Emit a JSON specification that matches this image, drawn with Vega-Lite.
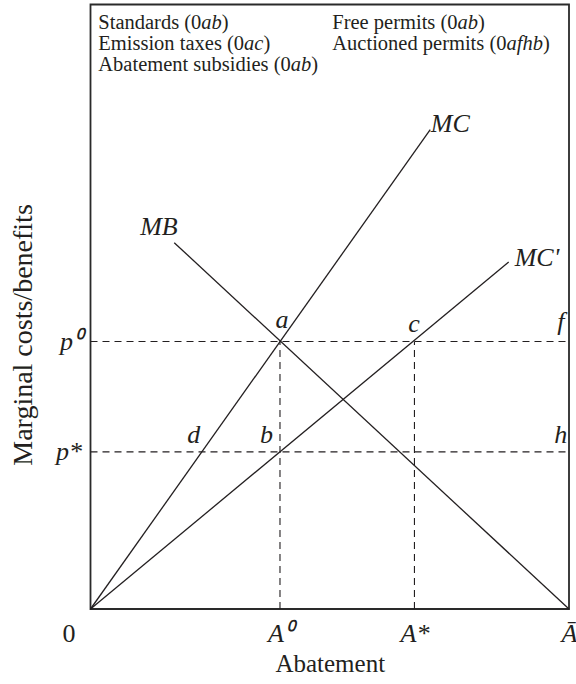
{
  "$schema": "https://vega.github.io/schema/vega-lite/v6.json",
  "width": 478.5,
  "height": 604.5,
  "autosize": "none",
  "padding": {"left": 90.5, "top": 4.5, "right": 7, "bottom": 75},
  "background": "white",
  "config": {
    "view": {"stroke": "#2a2a2a", "strokeWidth": 1.8},
    "font": "Liberation Serif",
    "text": {"font": "Liberation Serif", "fontSize": 20.5, "color": "#231f20"}
  },
  "datasets": {
    "curves": [
      {"curve": "MC", "x": 0, "y": 0},
      {"curve": "MC", "x": 71.0, "y": 79.3},
      {"curve": "MC'", "x": 0, "y": 0},
      {"curve": "MC'", "x": 87.4, "y": 57.4},
      {"curve": "MB", "x": 17.5, "y": 60.6},
      {"curve": "MB", "x": 100, "y": 0}
    ],
    "guides": [
      {"name": "p0", "x": 0, "x2": 100, "y": 44.25, "y2": 44.25},
      {"name": "pstar", "x": 0, "x2": 100, "y": 26.0, "y2": 26.0},
      {"name": "A0", "x": 39.6, "x2": 39.6, "y": 0, "y2": 44.25},
      {"name": "Astar", "x": 67.7, "x2": 67.7, "y": 0, "y2": 44.25}
    ],
    "pointLabels": [
      {"label": "a", "x": 40.0, "y": 46.5},
      {"label": "c", "x": 67.6, "y": 45.9},
      {"label": "f", "x": 98.3, "y": 46.1},
      {"label": "d", "x": 21.6, "y": 27.5},
      {"label": "b", "x": 36.8, "y": 27.5},
      {"label": "h", "x": 98.3, "y": 27.5},
      {"label": "MB", "x": 14.3, "y": 61.9},
      {"label": "MC", "x": 75.2, "y": 78.9},
      {"label": "MC'", "x": 93.3, "y": 56.8}
    ],
    "notes": [
      {"text": "Standards (0", "x": 1.63, "y": 95.9, "style": "normal"},
      {"text": "ab", "x": 23.17, "y": 95.9, "style": "italic"},
      {"text": ")", "x": 27.45, "y": 95.9, "style": "normal"},
      {"text": "Emission taxes (0", "x": 1.63, "y": 92.47, "style": "normal"},
      {"text": "ac", "x": 32.10, "y": 92.47, "style": "italic"},
      {"text": ")", "x": 36.14, "y": 92.47, "style": "normal"},
      {"text": "Abatement subsidies (0", "x": 1.63, "y": 89.05, "style": "normal"},
      {"text": "ab", "x": 41.85, "y": 89.05, "style": "italic"},
      {"text": ")", "x": 46.13, "y": 89.05, "style": "normal"},
      {"text": "Free permits (0", "x": 50.53, "y": 95.9, "style": "normal"},
      {"text": "ab", "x": 76.71, "y": 95.9, "style": "italic"},
      {"text": ")", "x": 81.0, "y": 95.9, "style": "normal"},
      {"text": "Auctioned permits (0", "x": 50.53, "y": 92.47, "style": "normal"},
      {"text": "afhb", "x": 86.94, "y": 92.47, "style": "italic"},
      {"text": ")", "x": 94.57, "y": 92.47, "style": "normal"}
    ]
  },
  "layer": [
    {
      "data": {"name": "guides"},
      "mark": {"type": "rule", "strokeDash": [7, 5], "strokeWidth": 1.1, "color": "#231f20"},
      "encoding": {
        "x": {
          "field": "x", "type": "quantitative",
          "scale": {"domain": [0, 100], "nice": false, "zero": false},
          "axis": {
            "values": [0, 39.6, 67.7, 100],
            "labelExpr": "datum.value == 0 ? '0' : (datum.value < 50 ? 'A⁰' : (datum.value < 80 ? 'A*' : 'Ā'))",
            "title": "Abatement",
            "titleFont": "Liberation Serif", "titleFontSize": 25, "titleFontWeight": "normal", "titleColor": "#231f20",
            "titlePadding": 5,
            "labelFont": "Liberation Serif", "labelFontSize": 26, "labelColor": "#231f20",
            "labelFontStyle": {"condition": {"test": "datum.value == 0", "value": "normal"}, "value": "italic"},
            "labelOffset": {"condition": {"test": "datum.value == 0", "value": -22}, "value": 0},
            "labelPadding": 11, "labelOverlap": false, "labelFlush": false,
            "ticks": false, "domain": false, "grid": false
          }
        },
        "x2": {"field": "x2"},
        "y": {
          "field": "y", "type": "quantitative",
          "scale": {"domain": [0, 100], "nice": false, "zero": false},
          "axis": {
            "values": [26.0, 44.25],
            "labelExpr": "datum.value > 40 ? 'p⁰' : 'p*'",
            "title": "Marginal costs/benefits",
            "titleFont": "Liberation Serif", "titleFontSize": 28, "titleFontWeight": "normal", "titleColor": "#231f20",
            "titleX": -53, "titleY": 330,
            "labelFont": "Liberation Serif", "labelFontSize": 26, "labelFontStyle": "italic", "labelColor": "#231f20",
            "labelPadding": 9,
            "ticks": false, "domain": false, "grid": false
          }
        },
        "y2": {"field": "y2"}
      }
    },
    {
      "data": {"name": "curves"},
      "mark": {"type": "line", "strokeWidth": 1.3, "color": "#231f20"},
      "encoding": {
        "x": {"field": "x", "type": "quantitative"},
        "y": {"field": "y", "type": "quantitative"},
        "detail": {"field": "curve"}
      }
    },
    {
      "data": {"name": "pointLabels"},
      "mark": {"type": "text", "fontStyle": "italic", "align": "center", "baseline": "alphabetic", "fontSize": 26},
      "encoding": {
        "x": {"field": "x", "type": "quantitative"},
        "y": {"field": "y", "type": "quantitative"},
        "text": {"field": "label"}
      }
    },
    {
      "data": {"name": "notes"},
      "transform": [{"filter": "datum.style == 'normal'"}],
      "mark": {"type": "text", "align": "left", "baseline": "alphabetic", "fontStyle": "normal"},
      "encoding": {
        "x": {"field": "x", "type": "quantitative"},
        "y": {"field": "y", "type": "quantitative"},
        "text": {"field": "text"}
      }
    },
    {
      "data": {"name": "notes"},
      "transform": [{"filter": "datum.style == 'italic'"}],
      "mark": {"type": "text", "align": "left", "baseline": "alphabetic", "fontStyle": "italic"},
      "encoding": {
        "x": {"field": "x", "type": "quantitative"},
        "y": {"field": "y", "type": "quantitative"},
        "text": {"field": "text"}
      }
    }
  ]
}
